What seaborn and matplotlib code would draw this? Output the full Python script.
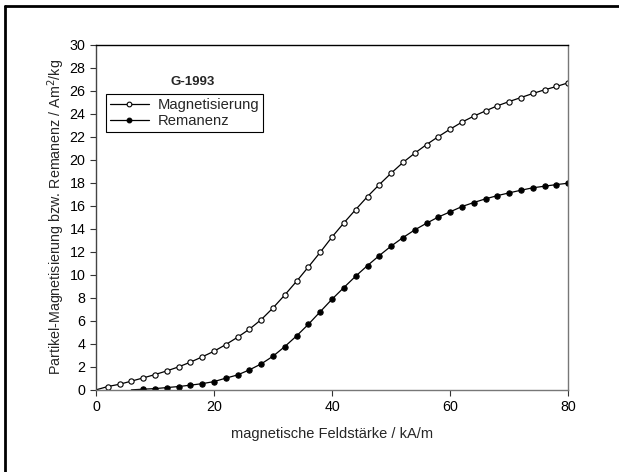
import numpy as np
import pandas as pd
import matplotlib.pyplot as plt
import seaborn as sns
from matplotlib.lines import Line2D

# values
feld_mag = list(range(0, 82, 2))
magnetisierung = [0.0, 0.29, 0.49, 0.76, 1.04, 1.33, 1.65, 2.0, 2.41, 2.87, 3.36,
                  3.94, 4.58, 5.28, 6.11, 7.13, 8.26, 9.45, 10.7, 11.97, 13.30,
                  14.52, 15.68, 16.81, 17.85, 18.84, 19.77, 20.58, 21.33, 22.02,
                  22.67, 23.28, 23.8, 24.26, 24.7, 25.07, 25.42, 25.77, 26.09,
                  26.38, 26.7]
feld_rem = list(range(6, 82, 2))
remanenz = [0.0, 0.06, 0.11, 0.2, 0.29, 0.41, 0.54, 0.72, 1.02, 1.30, 1.74, 2.26,
            2.93, 3.77, 4.70, 5.71, 6.80, 7.89, 8.90, 9.89, 10.81, 11.68, 12.50,
            13.24, 13.91, 14.49, 15.03, 15.48, 15.94, 16.29, 16.61, 16.89, 17.13,
            17.36, 17.57, 17.71, 17.85, 17.97]

x_ticks = [0, 20, 40, 60, 80]
y_ticks = list(range(0, 32, 2))

sns.set_style("ticks")
plt.rcParams['font.family'] = ['Liberation Sans', 'DejaVu Sans']

df_mag = pd.DataFrame({"H": feld_mag, "M": magnetisierung})
df_rem = pd.DataFrame({"H": feld_rem, "M": remanenz})

fig = plt.figure(figsize=(6.19, 4.72), dpi=100)
ax = fig.add_axes([0.155, 0.174, 0.763, 0.731])

sns.lineplot(data=df_mag, x="H", y="M", ax=ax, color="black", linewidth=0.9,
             marker="o", markersize=3.8, markerfacecolor="white",
             markeredgecolor="black", markeredgewidth=0.8,
             markevery=slice(1, None))
sns.lineplot(data=df_rem, x="H", y="M", ax=ax, color="black", linewidth=0.9,
             marker="o", markersize=3.8, markerfacecolor="black",
             markeredgecolor="black", markeredgewidth=0.8,
             markevery=slice(1, None))

ax.set_xlim(0, 80)
ax.set_ylim(0, 30)
ax.set_xticks(x_ticks)
ax.set_yticks(y_ticks)
ax.tick_params(direction="out", length=4, width=0.8, labelsize=10.3,
               colors="#333333", labelcolor="black")
ax.set_xlabel("magnetische Feldstärke / kA/m", fontsize=10.5, labelpad=9)
ax.set_ylabel("Partikel-Magnetisierung bzw. Remanenz / Am$^2$/kg", fontsize=10.3,
              labelpad=2)

for side in ["left", "bottom", "right"]:
    ax.spines[side].set_visible(True)
    ax.spines[side].set_color("#777777")
    ax.spines[side].set_linewidth(1.0)
ax.spines["left"].set_color("#444444")
ax.spines["top"].set_visible(True)
ax.spines["top"].set_color("black")
ax.spines["top"].set_linewidth(1.0)

handles = [
    Line2D([], [], color="black", lw=0.9, marker="o", markersize=3.4,
           markerfacecolor="white", markeredgewidth=0.8),
    Line2D([], [], color="black", lw=0.9, marker="o", markersize=3.4,
           markerfacecolor="black", markeredgewidth=0.8),
]
leg = ax.legend(handles, ["Magnetisierung", "Remanenz"], loc="upper left",
                bbox_to_anchor=(0.021, 0.858), fontsize=10.6, frameon=True,
                fancybox=False, edgecolor="black", framealpha=1,
                handlelength=2.6, handletextpad=0.6, borderpad=0.3,
                labelspacing=0.1, borderaxespad=0)
leg.get_frame().set_linewidth(0.8)
ax.text(0.205, 0.893, "G-1993", transform=ax.transAxes, fontsize=9.5,
        fontweight="bold", ha="center", va="center")

# frame lines along the top and left edge of the figure
fig.add_artist(Line2D([5 / 619, 1.0], [1 - 6 / 472, 1 - 6 / 472],
                      transform=fig.transFigure, color="black", lw=2))
fig.add_artist(Line2D([5 / 619, 5 / 619], [0, 1 - 6 / 472],
                      transform=fig.transFigure, color="black", lw=2))

plt.savefig("out.png", dpi=100)
